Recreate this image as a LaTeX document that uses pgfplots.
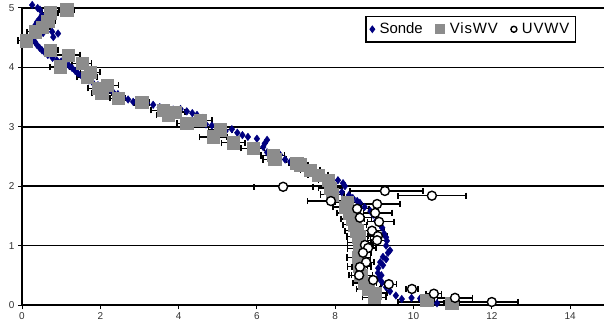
\documentclass[border=0pt]{standalone}
\usepackage{pgfplots}
\pgfplotsset{compat=1.18}
\usepackage{pgfplotstable}
\usepackage{fontspec}
\setmainfont{Liberation Sans}
\newfontfamily\legfont[LetterSpace=6]{Liberation Sans}
\newfontfamily\legfontn{Liberation Sans}
\definecolor{sonde}{RGB}{0,0,128}
\definecolor{vis}{RGB}{140,140,140}

\pgfplotstableread{
x y
0.26 5.05
0.40 5.00
0.46 4.97
0.51 4.88
0.45 4.82
0.38 4.76
0.33 4.70
0.28 4.63
0.54 4.58
0.77 4.60
0.92 4.57
0.80 4.51
0.28 4.49
0.32 4.44
0.38 4.38
0.45 4.33
0.51 4.29
0.58 4.25
0.66 4.21
0.78 4.16
0.89 4.12
1.00 4.10
1.10 4.07
1.20 4.03
1.28 3.99
1.36 3.94
1.43 3.90
1.52 3.86
1.61 3.82
1.71 3.78
1.81 3.74
1.94 3.70
2.07 3.65
2.20 3.62
2.32 3.59
2.45 3.55
2.58 3.50
2.71 3.46
2.84 3.42
3.00 3.41
3.19 3.40
3.35 3.37
3.52 3.33
3.70 3.31
3.86 3.29
4.05 3.30
4.21 3.26
4.35 3.23
4.47 3.20
4.62 3.15
4.55 3.06
4.70 3.04
4.85 3.02
5.10 2.99
5.20 2.93
5.36 2.96
5.50 2.90
5.63 2.86
5.77 2.83
6.00 2.80
6.26 2.78
6.20 2.72
6.16 2.66
6.26 2.57
6.45 2.55
6.59 2.53
6.72 2.45
6.85 2.41
6.98 2.37
7.10 2.33
7.23 2.30
7.35 2.26
7.48 2.22
7.60 2.19
7.72 2.16
7.85 2.13
8.07 2.10
8.20 2.05
8.25 2.00
8.17 1.90
8.35 1.85
8.45 1.80
8.56 1.75
8.63 1.72
8.75 1.65
8.90 1.58
8.97 1.52
9.05 1.42
9.15 1.35
9.20 1.30
9.25 1.20
9.30 1.14
9.32 1.08
9.30 1.00
9.40 0.92
9.35 0.88
9.22 0.81
9.30 0.77
9.15 0.72
9.22 0.67
9.10 0.62
9.09 0.54
9.18 0.50
9.12 0.45
9.20 0.38
9.30 0.30
9.40 0.23
9.55 0.16
9.70 0.10
9.95 0.12
10.17 0.11
10.60 0.03
}\sondetab

\pgfplotstableread{
x y e
1.14 4.97 0.20
0.72 4.92 0.20
0.66 4.78 0.20
0.51 4.68 0.20
0.33 4.60 0.20
0.10 4.45 0.20
0.72 4.29 0.20
1.18 4.21 0.30
0.97 4.01 0.25
1.53 4.07 0.25
1.74 3.92 0.25
1.66 3.84 0.25
1.94 3.65 0.25
2.17 3.70 0.30
2.04 3.57 0.25
2.45 3.48 0.20
3.06 3.41 0.20
3.60 3.28 0.30
3.91 3.25 0.25
3.73 3.20 0.30
4.21 3.06 0.25
4.55 3.11 0.30
5.06 2.95 0.30
4.88 2.83 0.35
5.39 2.73 0.30
5.90 2.64 0.30
6.41 2.52 0.30
6.45 2.45 0.30
7.02 2.39 0.20
7.10 2.36 0.20
7.36 2.27 0.25
7.56 2.19 0.25
7.82 2.10 0.25
7.87 1.97 0.30
7.93 1.86 0.30
8.30 1.73 0.30
8.25 1.65 0.30
8.35 1.55 0.30
8.45 1.45 0.30
8.50 1.35 0.30
8.55 1.25 0.30
8.60 1.15 0.30
8.62 1.05 0.30
8.62 0.95 0.30
8.60 0.80 0.30
8.62 0.65 0.30
8.65 0.50 0.30
8.75 0.37 0.30
8.85 0.27 0.30
9.02 0.20 0.30
9.00 0.13 0.30
10.34 0.08 0.20
10.98 0.03 0.20
}\vistab

\pgfplotstableread{
x y em ep
6.67 1.99 0.74 0.76
9.27 1.92 0.89 0.97
10.47 1.84 0.87 0.87
7.89 1.75 0.60 0.30
9.07 1.70 0.40 0.58
8.56 1.62 0.30 0.30
9.02 1.55 0.30 0.43
8.63 1.47 0.30 0.30
9.12 1.40 0.30 0.38
8.94 1.25 0.30 0.30
9.09 1.16 0.25 0.25
9.07 1.09 0.25 0.25
8.76 1.01 0.20 0.20
8.84 0.96 0.20 0.20
8.71 0.88 0.20 0.20
8.79 0.72 0.20 0.20
8.63 0.64 0.20 0.20
8.61 0.50 0.20 0.20
8.97 0.42 0.20 0.20
9.37 0.35 0.20 0.20
9.96 0.27 0.15 0.15
10.52 0.19 0.20 0.20
11.06 0.12 0.45 0.45
12.00 0.05 2.40 0.67
}\uvtab

\begin{document}
\begin{tikzpicture}
\useasboundingbox (-22bp,-24bp) rectangle (582bp,305bp);
\begin{axis}[
  at={(0,0)}, anchor=south west,
  scale only axis, width=587.25bp, height=297bp,
  xmin=0, xmax=15, ymin=0, ymax=5,
  clip=false,
  axis lines=left,
  axis line style={-, line width=1.5bp, black},
  xtick={0,2,...,14}, ytick={0,1,...,5},
  tick align=outside, major tick length=4bp,
  tick style={black, line width=1bp},
  ymajorgrids, major grid style={black, line width=1.5bp},
  /pgf/number format/assume math mode=true,
  tick label style={font=\fontsize{10}{11}\selectfont, text=black!80},
  legend columns=3,
  legend style={at={(rel axis cs:0.9434,0.973)}, anchor=north east,
    draw=black, line width=1.2bp, font=\fontsize{15}{17}\selectfont\legfont,
    inner xsep=4bp, inner ysep=4.5bp,
    /tikz/every odd column/.append style={column sep=3bp},
    /tikz/every even column/.append style={column sep=11bp}},
  legend cell align=left,
]
\addplot[only marks, mark=diamond*, mark size=3.8bp, color=sonde, mark options={draw=sonde, fill=sonde},
  legend image post style={mark size=3bp}] table[x=x,y=y] {\sondetab};
\addlegendentry{\legfontn Sonde}
\addplot[only marks, mark=square*, mark size=6.2bp, color=vis, mark options={draw=vis, fill=vis},
  legend image post style={mark size=4.5bp},
  error bars/.cd, x dir=both, x explicit,
  error bar style={black, line width=1.3bp},
  error mark=|,
  error mark options={black, mark size=3.2bp, line width=1.5bp}]
  table[x=x,y=y,x error=e] {\vistab};
\addlegendentry{VisWV}
\addplot[only marks, mark=*, mark size=4.5bp, color=black, mark options={draw=black, fill=white, line width=1.4bp},
  legend image post style={mark size=3bp},
  error bars/.cd, x dir=both, x explicit,
  error bar style={black, line width=1.3bp},
  error mark=|,
  error mark options={black, mark size=3.2bp, line width=1.5bp}]
  table[x=x,y=y,x error plus=ep,x error minus=em] {\uvtab};
\addlegendentry{UVWV}
\end{axis}
\end{tikzpicture}
\end{document}
